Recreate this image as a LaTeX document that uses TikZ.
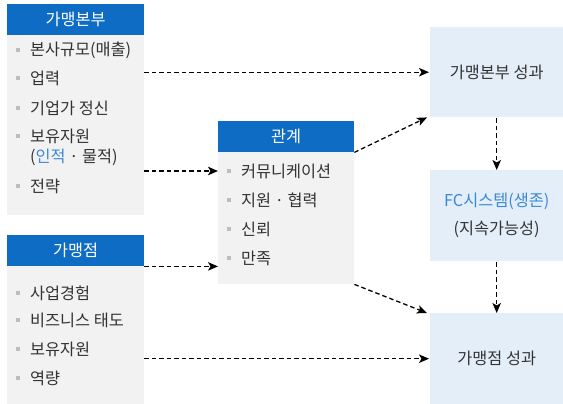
\documentclass[tikz,border=0pt]{standalone}
\usepackage{fontspec}
\setmainfont{Noto Sans CJK KR}
\usetikzlibrary{arrows.meta,calc}
\definecolor{hdrblue}{HTML}{0F6CC4}
\definecolor{bodygray}{HTML}{F2F2F2}
\definecolor{boxblue}{HTML}{E4EEF9}
\definecolor{txt}{HTML}{333333}
\definecolor{bul}{HTML}{BDBDBD}
\definecolor{hl}{HTML}{3B88D8}
\begin{document}
\begin{tikzpicture}[x=1pt,y=-1pt,
  font=\fontsize{16.3}{19}\selectfont,
  hdr/.style={fill=hdrblue,text=white,inner sep=0,anchor=north west},
  bodybox/.style={fill=bodygray,inner sep=0,anchor=north west},
  resbox/.style={fill=boxblue,inner sep=0,anchor=north west,text=txt,align=center},
  item/.style={text=txt,anchor=west,inner sep=0,align=left},
  bullet/.style={fill=bul,inner sep=0,minimum size=4.5pt},
  arr/.style={draw=black,line width=1.3pt,dash pattern=on 4.5pt off 3pt,-{Stealth[length=10pt,width=8.5pt,inset=2.5pt]}}
]
\useasboundingbox (0,0) rectangle (563,404);
% left top
\node[bodybox,minimum width=137pt,minimum height=180pt] (b1) at (7,35) {};
\node[hdr,minimum width=137pt,minimum height=31pt] (h1) at (7,4) {가맹본부};
\foreach \y/\t/\n in {50/본사규모(매출)/a1,78/업력/a2,108/기업가 정신/a3,136/보유자원/a4,186/전략/a6}{
  \node[bullet] (\n b) at (18,\y) {};
  \node[item] (\n) at (30,\y) {\t};
}
\node[item] (a5) at (30,157) {(\textcolor{hl}{인적} · 물적)};
% left bottom
\node[bodybox,minimum width=137pt,minimum height=138pt] (b2) at (7,266) {};
\node[hdr,minimum width=137pt,minimum height=31pt] (h2) at (7,235) {가맹점};
\foreach \y/\t/\n in {293/사업경험/c1,320/비즈니스 태도/c2,349/보유자원/c3,378/역량/c4}{
  \node[bullet] (\n b) at (18,\y) {};
  \node[item] (\n) at (30,\y) {\t};
}
% middle
\node[bodybox,minimum width=136pt,minimum height=132pt] (mb) at (218,152) {};
\node[hdr,minimum width=136pt,minimum height=31pt] (mh) at (218,121) {관계};
\foreach \y/\t/\n in {171/커뮤니케이션/m1,200/지원 · 협력/m2,229/신뢰/m3,258/만족/m4}{
  \node[bullet] (\n b) at (229,\y) {};
  \node[item] (\n) at (241,\y) {\t};
}
% right
\node[resbox,minimum width=133pt,minimum height=90pt] (r1) at (430,27) {};
\node[text=txt] at (r1.center) {가맹본부 성과};
\node[resbox,minimum width=133pt,minimum height=91pt] (r2) at (430,170) {};
\node[text=hl,inner sep=0] (r2a) at ($(r2.center)+(0,-14)$) {FC시스템(생존)};
\node[text=txt,inner sep=0] (r2b) at ($(r2.center)+(0,14)$) {(지속가능성)};
\node[resbox,minimum width=133pt,minimum height=91pt] (r3) at (430,313) {};
\node[text=txt] at (r3.center) {가맹점 성과};
% arrows
\draw[arr] (b1.east |- r1.west) -- ($(r1.west)+(-1,0)$);
\draw[arr] (b1.east |- m1) -- (mb.west |- m1);
\draw[arr] (h2.south east) -- (h2.south east -| mb.west);
\draw[arr] (b2.east |- r3.west) -- ($(r3.west)+(-1,0)$);
\draw[arr] (mh.south east) -- ($(r1.south west)+(-3,0)$);
\draw[arr] (mb.south east) -- ($(r3.north west)+(-3,0)$);
\draw[arr] ($(r1.south)+(0,1)$) -- (r2.north);
\draw[arr] ($(r2.south)+(0,1)$) -- (r3.north);
\end{tikzpicture}
\end{document}
